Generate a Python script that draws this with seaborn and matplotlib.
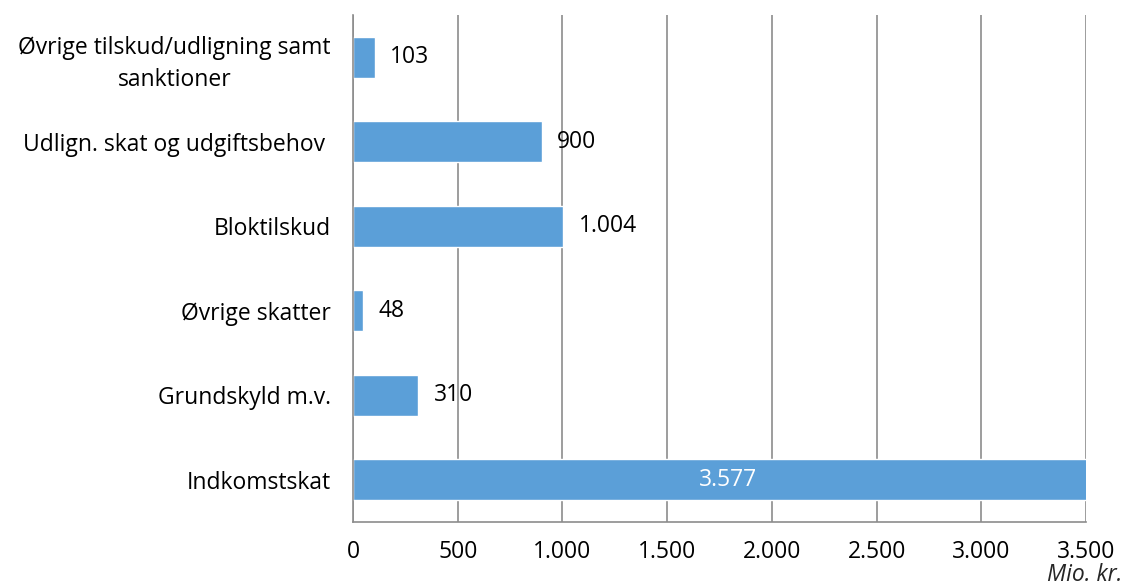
import pandas as pd
import matplotlib.pyplot as plt
import matplotlib.ticker as mticker
import seaborn as sns

# Data (top to bottom)
categories = ['Øvrige tilskud/udligning samt\nsanktioner', 'Udlign. skat og udgiftsbehov ',
              'Bloktilskud', 'Øvrige skatter', 'Grundskyld m.v.', 'Indkomstskat']
values = [103, 900, 1004, 48, 310, 3577]
value_labels = ['103', '900', '1.004', '48', '310', '3.577']
x_ticks = [0, 500, 1000, 1500, 2000, 2500, 3000, 3500]
x_tick_labels = ['0', '500', '1.000', '1.500', '2.000', '2.500', '3.000', '3.500']

df = pd.DataFrame({'kategori': categories, 'mio': values})

sns.set_style('white')
plt.rcParams['font.family'] = ['Open Sans', 'DejaVu Sans']

bar_color = '#5B9FD8'
grid_color = '#8C8C8C'
fs = 16.5

fig = plt.figure(figsize=(11.25, 5.87), dpi=100)
ax = fig.add_axes([0.3138, 0.1107, 0.6516, 0.8637])

sns.barplot(data=df, y='kategori', x='mio', orient='h', color=bar_color,
            width=0.49, saturation=1, ax=ax)

ax.set_xlim(0, 3500)
ax.set_ylim(len(categories) - 0.5, -0.5)
ax.set_xticks(x_ticks)
ax.set_xticklabels(x_tick_labels, fontsize=fs, color='black')
ax.set_ylabel('')
ax.set_xlabel('')

# vertical gridlines
ax.grid(axis='x', color=grid_color, linewidth=1.2)
ax.set_axisbelow(True)

for side in ['top', 'right']:
    ax.spines[side].set_visible(False)
for side in ['left', 'bottom']:
    ax.spines[side].set_color(grid_color)
    ax.spines[side].set_linewidth(1.2)

# y tick marks between categories, labels at centres
ax.set_yticks(range(len(categories)))
ax.set_yticklabels(categories, fontsize=fs, color='black', ha='right',
                   multialignment='center', linespacing=1.45)
ax.tick_params(axis='y', length=0, pad=16)
ax.yaxis.set_minor_locator(mticker.FixedLocator([i - 0.5 for i in range(len(categories) + 1)]))
ax.tick_params(axis='y', which='minor', length=7, color=grid_color, width=1.2)
ax.tick_params(axis='x', length=8, color=grid_color, width=1.2, direction='inout', pad=9)

# value labels
for i, (v, lab) in enumerate(zip(values, value_labels)):
    if v > 3500:
        ax.text(1790, i, lab, color='white', fontsize=fs, ha='center', va='center')
    else:
        ax.text(v + 75, i, lab, color='black', fontsize=fs, ha='left', va='center')

fig.text(0.998, 0.0, 'Mio. kr.', fontsize=fs, style='italic', ha='right', va='bottom')

fig.savefig('out.png', dpi=100)
